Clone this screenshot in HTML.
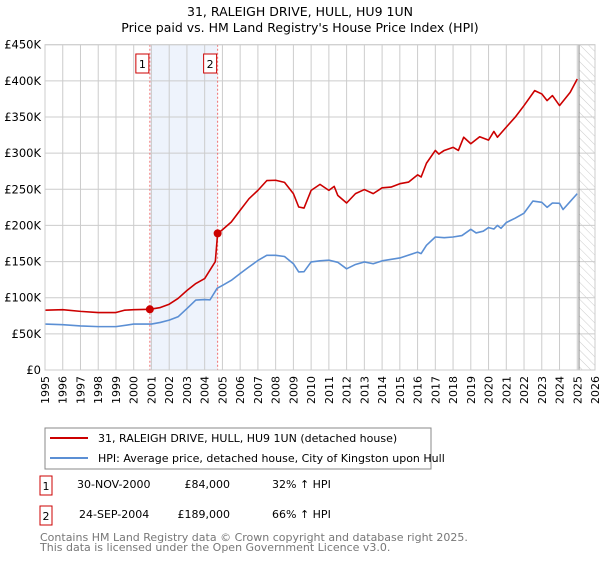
<!DOCTYPE html>
<html><head><meta charset="utf-8"><style>
body{margin:0;background:#fff;font-family:"Liberation Sans","DejaVu Sans",sans-serif}
svg text{font-family:"DejaVu Sans","Liberation Sans",sans-serif}
</style></head><body>
<svg id="c" width="600" height="560" viewBox="0 0 600 560" xmlns="http://www.w3.org/2000/svg">
<text x="300" y="16" text-anchor="middle" font-size="12.5">31, RALEIGH DRIVE, HULL, HU9 1UN</text>
<text x="300" y="32" text-anchor="middle" font-size="12.5">Price paid vs. HM Land Registry's House Price Index (HPI)</text>
<g id="plot"></g>
<g>
<rect x="45" y="428" width="386" height="41" fill="#fff" stroke="#888"/>
<line x1="50" y1="438" x2="88" y2="438" stroke="#cc0000" stroke-width="2"/>
<text x="98" y="442" font-size="11">31, RALEIGH DRIVE, HULL, HU9 1UN (detached house)</text>
<line x1="50" y1="458" x2="88" y2="458" stroke="#5b8fd4" stroke-width="2"/>
<text x="98" y="462" font-size="11">HPI: Average price, detached house, City of Kingston upon Hull</text>
</g>
<g font-size="11">
<rect x="40" y="476" width="12" height="19" fill="#fff" stroke="#cc0000"/><text x="46" y="490" text-anchor="middle">1</text>
<text x="77" y="488">30-NOV-2000</text><text x="230" y="488" text-anchor="end">£84,000</text><text x="272" y="488">32% ↑ HPI</text>
<rect x="40" y="506" width="12" height="19" fill="#fff" stroke="#cc0000"/><text x="46" y="520" text-anchor="middle">2</text>
<text x="79" y="518">24-SEP-2004</text><text x="230" y="518" text-anchor="end">£189,000</text><text x="272" y="518">66% ↑ HPI</text>
</g>
<text x="40" y="541" font-size="11" fill="#777">Contains HM Land Registry data © Crown copyright and database right 2025.</text>
<text x="40" y="551" font-size="11" fill="#777">This data is licensed under the Open Government Licence v3.0.</text>
</svg>
<script>
const yTicks=[0,50,100,150,200,250,300,350,400,450];
const yTickLabels=["£0","£50K","£100K","£150K","£200K","£250K","£300K","£350K","£400K","£450K"];
const years=[1995,1996,1997,1998,1999,2000,2001,2002,2003,2004,2005,2006,2007,2008,2009,2010,2011,2012,2013,2014,2015,2016,2017,2018,2019,2020,2021,2022,2023,2024,2025,2026];
const hpiT=[1995,1996,1997,1998,1999,2000,2001,2001.5,2002,2002.5,2003,2003.5,2004,2004.3,2004.7,2005,2005.5,2006,2006.5,2007,2007.5,2008,2008.5,2009,2009.3,2009.6,2010,2010.5,2011,2011.5,2012,2012.5,2013,2013.5,2014,2015,2016,2016.2,2016.5,2017,2017.5,2018,2018.5,2019,2019.3,2019.7,2020,2020.3,2020.5,2020.7,2021,2021.5,2022,2022.5,2023,2023.3,2023.6,2024,2024.2,2024.6,2025];
const hpiV=[63.5,62.7,61,60,60,63.5,63.5,65.8,69,73.6,85,96.7,97.5,97,113,117,124,133.5,142.6,151.5,158.7,158.7,157,147,135.7,136,149.5,151,152,149,140,146,149.5,147,151,155,163,161,172.5,184,183,184,186,194.6,189.6,192,197,195,200,196,204,210,217,233.7,232,225,231,230.6,222,233,244];
const priceT=[1995,1996,1997,1998,1999,1999.5,2000,2000.91,2001.5,2002,2002.5,2003,2003.5,2004,2004.6,2004.73,2005,2005.5,2006,2006.5,2007,2007.5,2008,2008.5,2009,2009.3,2009.6,2010,2010.5,2011,2011.3,2011.5,2012,2012.5,2013,2013.5,2014,2014.5,2015,2015.5,2016,2016.2,2016.5,2017,2017.2,2017.5,2018,2018.3,2018.6,2019,2019.5,2020,2020.3,2020.5,2021,2021.5,2022,2022.6,2023,2023.3,2023.6,2024,2024.6,2025];
const priceV=[82.8,83.4,81.1,79.5,79.5,82.8,83.4,84,86.4,91,99,110,119.6,126.5,150,189,194,204.7,221,237,248.5,262,262.5,259.5,244,225.5,224,248.5,256.8,248.5,254,241.6,231,244,249.6,244,252,253,257.7,260,270,267,286,303.7,298.7,303.7,308,303.7,322,313,322.6,318,330,322,336,349.7,365.8,386.5,381.9,372.7,379.6,365.8,384,402.6];
const salesT=[2000.91,2004.73];
const salesV=[84,189];
const salesLabels=["1","2"];
const X0=45,X1=595,Y0=370,Y1=44.7;
const xs=t=>X0+(t-1995)*(X1-X0)/31;
const ys=v=>Y0-v*(Y0-Y1)/450;
const NS="http://www.w3.org/2000/svg";
const g=document.getElementById('plot');
function mk(tag,attrs){const e=document.createElementNS(NS,tag);for(const k in attrs)e.setAttribute(k,attrs[k]);g.appendChild(e);return e;}
const sh=mk('rect',{x:xs(salesT[0]),y:Y1,width:xs(salesT[1])-xs(salesT[0]),height:Y0-Y1,fill:'#eef3fc'});


const defs=document.createElementNS(NS,'defs');defs.innerHTML='<pattern id="h" width="6" height="6" patternUnits="userSpaceOnUse" patternTransform="rotate(-45)"><line x1="0" y1="0" x2="0" y2="6" stroke="#ccc" stroke-width="1"/></pattern>';g.appendChild(defs);
const ht=mk('rect',{x:xs(2025.1),y:Y1,width:X1-xs(2025.1),height:Y0-Y1,fill:'url(#h)'});


years.forEach(yr=>{const l=mk('line',{x1:xs(yr),x2:xs(yr),y1:Y1,y2:Y0,stroke:'#ccc'});


const s=String(yr),n=s.length;
const ox=xs(yr)+4;
const t=mk('text',{'font-size':11,rotate:'-90'});


for(let i=0;i<n;i++){const sp=document.createElementNS(NS,'tspan');
sp.setAttribute('x',ox);sp.setAttribute('y',383+(n-1-i)*7);sp.textContent=s[i];t.appendChild(sp);}
});
yTicks.forEach((v,i)=>{const l=mk('line',{x1:X0,x2:X1,y1:ys(v),y2:ys(v),stroke:'#ccc'});


const t=mk('text',{x:X0-4,y:ys(v)+4,'font-size':11.5,'text-anchor':'end'});t.textContent=yTickLabels[i];

});
const vl=mk('line',{x1:xs(2025.1),x2:xs(2025.1),y1:Y1,y2:Y0,stroke:'#888'});


salesT.forEach((t,i)=>{const l=mk('line',{x1:xs(t),x2:xs(t),y1:Y1,y2:Y0,stroke:'#f07070','stroke-dasharray':'2,2'});


const r=mk('rect',{x:xs(t)-14,y:54,width:13,height:19,fill:'#fff',stroke:'#cc0000'});


const tx=mk('text',{x:xs(t)-7.5,y:68,'font-size':11,'text-anchor':'middle'});tx.textContent=salesLabels[i];

});
const line=(T,V,c,n)=>{const p=mk('polyline',{points:T.map((t,i)=>xs(t)+','+ys(V[i])).join(' '),fill:'none',stroke:c,'stroke-width':1.6,'stroke-linejoin':'round'});

};
line(hpiT,hpiV,'#5b8fd4','hpi-line');
line(priceT,priceV,'#cc0000','price-line');
salesT.forEach((t,i)=>{const c=mk('circle',{cx:xs(t),cy:ys(salesV[i]),r:4,fill:'#cc0000'});

});
const ax=mk('rect',{x:X0,y:Y1,width:X1-X0,height:Y0-Y1,fill:'none',stroke:'#ccc'});


</script>
</body></html>
